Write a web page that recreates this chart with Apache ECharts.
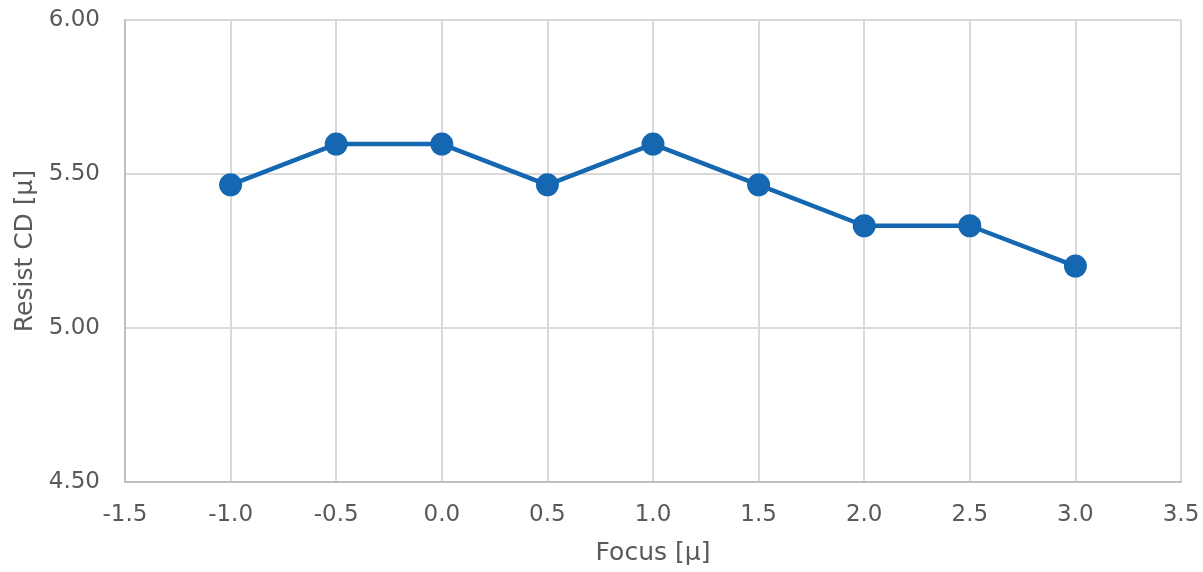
<!DOCTYPE html>
<html><head><meta charset="utf-8">
<script src="https://cdn.jsdelivr.net/npm/echarts@6/dist/echarts.min.js"></script>
<style>html,body{margin:0;padding:0;background:#fff}#c{width:1203px;height:572px}</style>
</head><body><div id="c"></div>
<script>
const focus = [-1.0, -0.5, 0.0, 0.5, 1.0, 1.5, 2.0, 2.5, 3.0];
const resistCD = [5.465, 5.597, 5.597, 5.465, 5.597, 5.465, 5.332, 5.332, 5.201];
const chart = echarts.init(document.getElementById('c'));
const font = 'DejaVu Sans, Verdana, sans-serif';
chart.setOption({
  animation: false,
  grid: {left: 125, right: 22, top: 20, bottom: 90},
  xAxis: {
    type: 'value', min: -1.5, max: 3.5, interval: 0.5,
    name: 'Focus [μ]', nameLocation: 'middle', nameGap: 59,
    nameTextStyle: {fontFamily: font, fontSize: 25, color: '#595959'},
    axisLine: {show: true, onZero: false, lineStyle: {color: '#bfbfbf', width: 2}},
    axisTick: {show: false},
    splitLine: {show: true, lineStyle: {color: '#d9d9d9', width: 2}},
    axisLabel: {fontFamily: font, fontSize: 23, color: '#595959', margin: 22,
      formatter: v => v.toFixed(1)}
  },
  yAxis: {
    type: 'value', min: 4.5, max: 6.0, interval: 0.5,
    name: 'Resist CD [μ]', nameLocation: 'middle', nameGap: 85,
    nameTextStyle: {fontFamily: font, fontSize: 25, color: '#595959'},
    axisLine: {show: true, onZero: false, lineStyle: {color: '#bfbfbf', width: 2}},
    axisTick: {show: false},
    splitLine: {show: true, lineStyle: {color: '#d9d9d9', width: 2}},
    axisLabel: {fontFamily: font, fontSize: 23, color: '#595959', margin: 25,
      formatter: v => v.toFixed(2)}
  },
  series: [{
    type: 'line',
    data: focus.map((x, i) => [x, resistCD[i]]),
    symbol: 'circle', symbolSize: 23,
    lineStyle: {color: '#1467b0', width: 4.5},
    itemStyle: {color: '#1467b0'}
  }]
});
</script></body></html>
